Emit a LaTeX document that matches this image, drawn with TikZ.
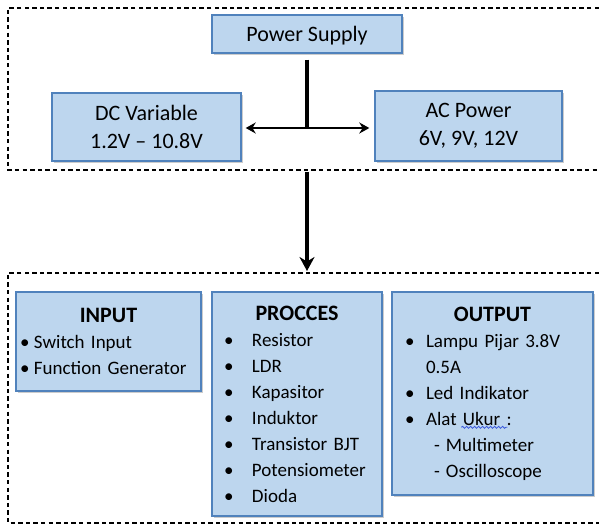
\documentclass[tikz,border=0pt]{standalone}
\usepackage{fontspec}
\setmainfont{Carlito}
\usepackage{tikz}
\usetikzlibrary{positioning}
\usetikzlibrary{arrows.meta}
\usetikzlibrary{shadows}
\usetikzlibrary{decorations.pathmorphing}
\setlength{\parindent}{0pt}
\definecolor{blockfill}{RGB}{189,214,238}
\definecolor{blockline}{RGB}{80,130,188}
\definecolor{waveblue}{RGB}{60,90,220}
\tikzset{ps_diagram/.style={x=0.5pt,y=-0.5pt}}
\tikzset{ps_block/.style={draw=blockline, fill=blockfill, line width=0.7pt, inner sep=0pt, align=center,
    drop shadow={shadow xshift=1.2pt, shadow yshift=-1.2pt, fill=black!40, opacity=0.5},
    font=\fontsize{11}{14}\selectfont}}
\tikzset{ps_list/.style={ps_block, align=left, font=\fontsize{9.5}{13}\selectfont}}
\tikzset{ps_frame/.style={dash pattern=on 2.2pt off 1.6pt, line width=0.6pt}}
\tikzset{ps_line/.style={line width=2pt}}
\tikzset{ps_split/.style={{Stealth[length=5pt,width=5.5pt]}-{Stealth[length=5pt,width=5.5pt]}, line width=1.4pt, shorten <=2pt, shorten >=2.5pt}}
\tikzset{ps_down/.style={-{Stealth[length=7pt,width=7.5pt]}, line width=2pt}}
\tikzset{ps_wave/.style={waveblue, line width=0.4pt, decorate, decoration={snake, segment length=2pt, amplitude=0.5pt}}}
\newcommand{\listitem}[3]{\hspace*{#1}\makebox[#2][l]{\textbullet}#3}
\newcommand{\dashitem}[3]{\hspace*{#1}\makebox[#2][l]{-}#3}
\newcommand{\boxtitle}[1]{{\centering\fontsize{11}{13}\bfseries #1\par}}

\begin{document}
\begin{tikzpicture}[ps_diagram]
    %\draw[help lines] (0,0) grid (599,525);
    \useasboundingbox (0,0) rectangle (599,525);
    \draw[ps_frame] (599,8) -- (8,8) -- (8,170) -- (599,170);
    \draw[ps_frame] (599,273) -- (8,273) -- (8,523) -- (599,523);

    \node[ps_block, minimum width=95pt, minimum height=19pt, text depth=0.5pt] (power) at (307,34) {Power Supply};
    \node[ps_block, minimum width=94.5pt, minimum height=34pt] (dc) at (146.5,127) {DC Variable\\1.2V -- 10.8V};
    \node[ps_block, minimum width=93.5pt, minimum height=35pt] (ac) at (468.5,126) {AC Power\\6V, 9V, 12V};
    \coordinate (split) at (power.south |- 0,128);
    \coordinate (upper_gap) at (307,172);
    \coordinate (lower_gap) at (307,271);

    \draw[ps_line, shorten <=3pt] (power.south) -- (split);
    \draw[ps_split] (split -| dc.east) -- (split -| ac.west);
    \draw[ps_down] (upper_gap) -- (lower_gap);

    \node[ps_list, text width=92.5pt, minimum height=49.5pt] (input) at (108.5,341.5) {%
        \boxtitle{INPUT}
        \listitem{2pt}{7pt}{Switch Input}\\
        \listitem{2pt}{7pt}{Function Generator}\\[-2pt]};
    \node[ps_list, text width=85pt, minimum height=112pt] (procces) at (297,404) {%
        \boxtitle{PROCCES}
        \listitem{6pt}{14pt}{Resistor}\\
        \listitem{6pt}{14pt}{LDR}\\
        \listitem{6pt}{14pt}{Kapasitor}\\
        \listitem{6pt}{14pt}{Induktor}\\
        \listitem{6pt}{14pt}{Transistor BJT}\\
        \listitem{6pt}{14pt}{Potensiometer}\\
        \listitem{6pt}{14pt}{Dioda}};
    \node[ps_list, text width=100.5pt, minimum height=101.5pt] (output) at (492.5,393.5) {%
        \boxtitle{OUTPUT}
        \listitem{6.5pt}{10.5pt}{Lampu Pijar 3.8V}\\
        \hspace*{17pt}0.5A\\
        \listitem{6.5pt}{10.5pt}{Led Indikator}\\
        \listitem{6.5pt}{10.5pt}{Alat Ukur :}\\
        \dashitem{21pt}{6pt}{Multimeter}\\
        \dashitem{21pt}{6pt}{Oscilloscope}};
    \draw[ps_wave] ([shift={(70,136)}]output.north west) -- ++(46,0);
\end{tikzpicture}
\end{document}
